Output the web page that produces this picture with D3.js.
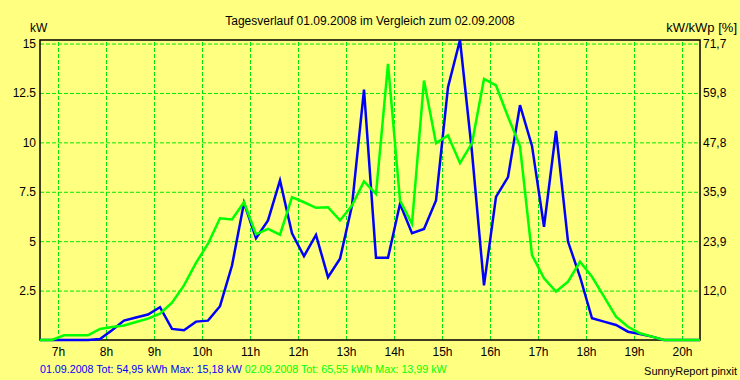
<!DOCTYPE html>
<html>
<head>
<meta charset="utf-8">
<script src="https://cdn.jsdelivr.net/npm/d3@7/dist/d3.min.js"></script>
<style>
  html, body { margin: 0; padding: 0; background: #FFFF80; }
  svg { display: block; font-family: "Liberation Sans", Arial, sans-serif; }
</style>
</head>
<body>
<svg id="chart" width="740" height="380"></svg>
<script>
// ---- data (15-minute values, kW) ----
const startHour = 6.625;   // first sample time (hours)
const stepHour = 0.25;     // 15-minute interval
const series1 = [0, 0, 0, 0, 0, 0.05, 0.49, 0.98, 1.14, 1.29,
  1.66, 0.56, 0.49, 0.93, 0.98, 1.71, 3.77, 6.94, 5.15, 6.05,
  8.07, 5.40, 4.24, 5.32, 3.18, 4.11, 6.8, 12.67, 4.16, 4.16,
  6.89, 5.40, 5.62, 7.06, 12.79, 15.18, 9.50, 2.76, 7.24, 8.24,
  11.88, 9.82, 5.73, 10.58, 4.98, 3.2, 1.1, 0.93, 0.76, 0.42,
  0.3, 0.17, 0, 0, 0, 0];
const series2 = [0, 0, 0.24, 0.24, 0.24, 0.56, 0.66, 0.73, 0.91, 1.08,
  1.33, 1.89, 2.76, 3.9, 4.87, 6.16, 6.1, 6.97, 5.35, 5.62,
  5.33, 7.23, 6.97, 6.69, 6.72, 6.05, 6.8, 8.02, 7.39, 13.97,
  7.06, 5.88, 13.13, 9.96, 10.35, 8.95, 9.96, 13.21, 12.88, 11.3,
  9.8, 4.3, 3.12, 2.45, 2.95, 3.96, 3.2, 2.19, 1.18, 0.67,
  0.34, 0.17, 0, 0, 0, 0];
const hourTicks = [7, 8, 9, 10, 11, 12, 13, 14, 15, 16, 17, 18, 19, 20];
const hourLabels = ["7h","8h","9h","10h","11h","12h","13h","14h","15h","16h","17h","18h","19h","20h"];
const kwTicks = [2.5, 5, 7.5, 10, 12.5, 15];
const kwLabels = ["2.5", "5", "7.5", "10", "12.5", "15"];
const pctLabels = ["12,0", "23,9", "35,9", "47,8", "59,8", "71,7"];
const title = "Tagesverlauf 01.09.2008 im Vergleich zum 02.09.2008";
const legend1 = "01.09.2008 Tot: 54,95 kWh Max: 15,18 kW";
const legend2 = "02.09.2008 Tot: 65,55 kWh Max: 13,99 kW";
const credit = "SunnyReport pinxit";

// ---- layout ----
const L = 40, R = 700, T = 40, B = 340;
const svg = d3.select("#chart");
svg.append("rect").attr("width", 740).attr("height", 380).attr("fill", "#FFFF80");

const x = d3.scaleLinear().domain([startHour, startHour + stepHour * (series1.length - 1)]).range([L, R]);
const y = d3.scaleLinear().domain([0, 15.18]).range([B, T]);

const gridColor = "#00E800";

// horizontal grid
svg.append("g").attr("transform", `translate(${L},0)`)
  .call(d3.axisLeft(y).tickValues(kwTicks).tickSize(-(R - L)).tickFormat(""))
  .call(g => g.select(".domain").remove())
  .call(g => g.selectAll("line").attr("stroke", gridColor).attr("stroke-width", 1).attr("stroke-dasharray", "4,2"));

// vertical grid
svg.append("g").attr("transform", `translate(0,${B})`)
  .call(d3.axisBottom(x).tickValues(hourTicks).tickSize(-(B - T)).tickFormat(""))
  .call(g => g.select(".domain").remove())
  .call(g => g.selectAll("line").attr("stroke", gridColor).attr("stroke-width", 1).attr("stroke-dasharray", "4,2"));

// left axis labels
svg.append("g").attr("transform", `translate(${L},0)`)
  .call(d3.axisLeft(y).tickValues(kwTicks).tickSize(0).tickPadding(4).tickFormat((d, i) => kwLabels[i]))
  .call(g => g.select(".domain").remove())
  .call(g => g.selectAll("text").attr("fill", "#000").attr("font-size", 12).attr("font-family", "Liberation Sans, Arial, sans-serif"));

// right axis labels
svg.append("g").attr("transform", `translate(${R},0)`)
  .call(d3.axisRight(y).tickValues(kwTicks).tickSize(0).tickPadding(3).tickFormat((d, i) => pctLabels[i]))
  .call(g => g.select(".domain").remove())
  .call(g => g.selectAll("text").attr("fill", "#000").attr("font-size", 12).attr("font-family", "Liberation Sans, Arial, sans-serif"));

// bottom axis labels
svg.append("g").attr("transform", `translate(0,${B})`)
  .call(d3.axisBottom(x).tickValues(hourTicks).tickSize(0).tickPadding(7).tickFormat((d, i) => hourLabels[i]))
  .call(g => g.select(".domain").remove())
  .call(g => g.selectAll("text").attr("fill", "#000").attr("font-size", 12).attr("font-family", "Liberation Sans, Arial, sans-serif"));

// plot frame
svg.append("rect").attr("x", L).attr("y", T).attr("width", R - L).attr("height", B - T)
  .attr("fill", "none").attr("stroke", "#000").attr("stroke-width", 1.5);

// lines
const line = d3.line().x((d, i) => x(startHour + i * stepHour)).y(d => y(d));
svg.append("path").datum(series1).attr("d", line)
  .attr("fill", "none").attr("stroke", "#0000FF").attr("stroke-width", 2.5);
svg.append("path").datum(series2).attr("d", line)
  .attr("fill", "none").attr("stroke", "#00FF00").attr("stroke-width", 2.5);

// texts
svg.append("text").attr("x", 370).attr("y", 25).attr("text-anchor", "middle")
  .attr("font-size", 12).attr("fill", "#000").text(title);
svg.append("text").attr("x", 30).attr("y", 32).attr("font-size", 12).attr("fill", "#000").text("kW");
svg.append("text").attr("x", 737).attr("y", 32).attr("text-anchor", "end")
  .attr("font-size", 13).attr("fill", "#000").text("kW/kWp [%]");

const leg = svg.append("text").attr("x", 40).attr("y", 373).attr("font-size", 10.7);
leg.append("tspan").attr("fill", "#0000FF").text(legend1);
leg.append("tspan").attr("fill", "#00FF00").text(" " + legend2);

svg.append("text").attr("x", 737).attr("y", 375).attr("text-anchor", "end")
  .attr("font-size", 11).attr("fill", "#000").text(credit);
</script>
</body>
</html>
